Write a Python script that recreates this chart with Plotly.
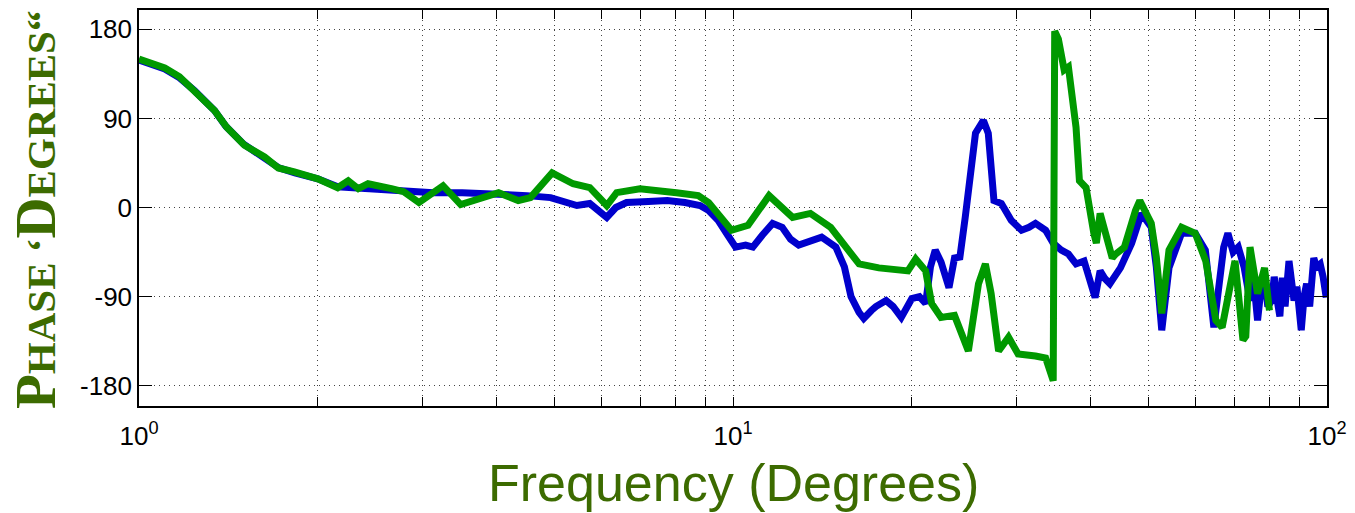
import plotly.graph_objects as go

# ---- data (frequency, phase in degrees) ----
blue_freq = [1.0, 1.05, 1.105, 1.17, 1.24, 1.34, 1.40, 1.50, 1.63, 1.72, 1.83, 2.0, 2.16, 2.3, 2.5,
             2.75, 3.13, 3.5, 4.0, 4.5, 4.93, 5.2, 5.46, 5.74, 6.13, 6.35, 6.62, 7.2, 7.75, 8.3,
             8.8, 9.1, 9.44, 9.8, 10.1, 10.5, 10.8, 11.2, 11.66, 12.1, 12.5, 12.9, 13.5, 14.1,
             14.5, 14.9, 15.4, 15.8, 16.3, 16.6, 17.1, 17.4, 18.1, 18.6, 19.2, 19.6, 20.0, 20.6,
             21.1, 21.5, 21.9, 22.4, 23.1, 23.6, 24.1, 24.6, 25.2, 25.6, 26.4, 26.9, 27.5, 28.3,
             29.4, 30.6, 31.5, 32.3, 33.6, 34.6, 35.7, 36.7, 37.8, 39.0, 40.7, 41.5, 42.3, 43.1,
             44.9, 46.9, 48.7, 50.6, 51.6, 52.7, 54.2, 56.9, 60.0, 62.4, 64.5, 65.8, 67.0, 68.1,
             69.5, 70.9, 72.5, 74.2, 75.3, 76.4, 77.5, 78.5, 79.5, 80.7, 81.5, 82.5, 83.3, 84.1,
             85.0, 86.3, 87.2, 88.0, 89.0, 90.5, 91.5, 92.4, 93.5, 95.0, 96.0, 97.4, 98.5, 99.7]
blue_phase = [149, 145, 140, 131, 118, 98, 82, 64, 50, 40, 35, 29, 21, 20, 18,
              17, 15, 15, 14, 12, 10, 6, 2, 4, -10, 0, 5, 6, 7, 5,
              2, -3, -13, -28, -40, -38, -40, -28, -16, -20, -32, -38, -33, -30,
              -35, -40, -60, -90, -106, -112, -104, -100, -94, -100, -111, -100, -92, -90,
              -97, -60, -43, -55, -81, -51, -50, -10, 40, 75, 88, 75, 7, 4,
              -13, -23, -20, -16, -23, -36, -43, -47, -57, -54, -91, -64, -72, -77,
              -61, -36, -6, -20, -60, -124, -61, -26, -26, -43, -121, -84, -40, -26,
              -45, -40, -60, -94, -75, -114, -80, -71, -100, -94, -70, -95, -110, -71,
              -100, -54, -75, -94, -80, -124, -90, -77, -100, -51, -60, -57, -70, -91]

green_freq = [1.0, 1.05, 1.105, 1.17, 1.24, 1.34, 1.405, 1.505, 1.627, 1.716, 1.826, 2.0, 2.16,
              2.25, 2.34, 2.43, 2.66, 2.79, 2.96, 3.25, 3.48, 3.76, 4.03, 4.35, 4.56, 4.96,
              5.38, 5.74, 6.13, 6.37, 6.97, 8.03, 8.74, 9.1, 9.44, 9.94, 10.6, 11.5, 12.6,
              13.5, 14.6, 15.5, 16.3, 17.6, 19.0, 19.7, 20.3, 21.1, 21.6, 22.4, 23.6, 24.9,
              25.9, 26.6, 27.2, 28.0, 29.1, 30.2, 32.3, 33.6, 34.6, 34.8, 35.3, 36.1, 36.7,
              37.8, 38.3, 38.6, 39.3, 40.5, 40.9, 41.5, 42.7, 43.5, 44.1, 45.6, 47.6, 48.4,
              50.6, 51.6, 52.7, 54.2, 56.9, 60.0, 62.5, 65.0, 66.6, 68.0, 70.0, 71.0, 72.2,
              73.0, 74.2, 76.4, 78.5, 80.0]
green_phase = [150, 146, 141, 132, 118, 98, 81, 63, 51, 40, 36, 29, 20,
               27, 19, 24, 19, 16, 5, 22, 3, 10, 15, 7, 10, 35,
               24, 20, 2, 15, 19, 15, 12, 5, -6, -23, -18, 12, -10,
               -6, -20, -40, -57, -61, -62, -64, -52, -64, -97, -111, -109, -145,
               -77, -57, -87, -145, -131, -148, -150, -152, -175, 178, 170, 139, 142,
               81, 27, 25, 20, -26, -36, -6, -33, -51, -47, -40, -3, 7,
               -16, -50, -107, -43, -20, -26, -54, -114, -121, -90, -54, -90, -134,
               -130, -40, -87, -61, -104]

x_major = [1, 10, 100]
x_major_text = ["10<sup>0</sup>", "10<sup>1</sup>", "10<sup>2</sup>"]
x_minor = [2, 3, 4, 5, 6, 7, 8, 9, 20, 30, 40, 50, 60, 70, 80, 90]
y_tickvals = [-180, -90, 0, 90, 180]
y_ticktext = ["-180", "-90", "0", "90", "180"]

TITLE_GREEN = "#3c6b00"
GRID = dict(showgrid=True, gridcolor="#444444", griddash="1px,4px", gridwidth=1)

fig = go.Figure()
fig.add_trace(go.Scatter(x=blue_freq, y=blue_phase, mode="lines",
                         line=dict(color="#0000cc", width=7), showlegend=False))
fig.add_trace(go.Scatter(x=green_freq, y=green_phase, mode="lines",
                         line=dict(color="#009900", width=7), showlegend=False))

fig.update_layout(
    width=1355, height=513,
    margin=dict(l=139, r=24, t=8, b=107),
    paper_bgcolor="white", plot_bgcolor="white",
    font=dict(family="Liberation Sans, Arial", size=26, color="black"),
    xaxis=dict(
        type="log", range=[0, 2],
        tickmode="array", tickvals=x_major, ticktext=x_major_text,
        ticks="inside", ticklen=9, tickcolor="black", tickwidth=1,
        showline=True, linecolor="black", linewidth=1.5, mirror="ticks",
        zeroline=False, tickfont=dict(size=26), ticklabelstandoff=6,
        minor=dict(tickmode="array", tickvals=x_minor, ticks="inside", ticklen=9,
                   tickcolor="black", tickwidth=1, **GRID),
        **GRID,
    ),
    yaxis=dict(
        range=[-200.5, 199.5],
        tickmode="array", tickvals=y_tickvals, ticktext=y_ticktext,
        ticks="inside", ticklen=13, tickcolor="black", tickwidth=1,
        showline=True, linecolor="black", linewidth=1.5, mirror="ticks",
        zeroline=False, tickfont=dict(size=26),
        **GRID,
    ),
)

fig.add_annotation(
    text="Frequency (Degrees)", xref="paper", yref="paper", x=0.5, y=0,
    xanchor="center", yanchor="top", yshift=-46, showarrow=False,
    font=dict(family="Liberation Sans, Arial", size=52, color=TITLE_GREEN),
)

big = "font-size:57px"
small = "font-size:41px"
ytitle = (f"<b><span style='{big}'>P</span><span style='{small}'>HASE ‘</span>"
          f"<span style='{big}'>D</span><span style='{small}'>EGREES“</span></b>")
fig.add_annotation(
    text=ytitle, xref="paper", yref="paper", x=0, y=0.495,
    xanchor="center", yanchor="middle", xshift=-103, textangle=-90, showarrow=False,
    font=dict(family="Liberation Serif, Times New Roman, serif", size=41, color=TITLE_GREEN),
)

fig.write_html("out.html")
